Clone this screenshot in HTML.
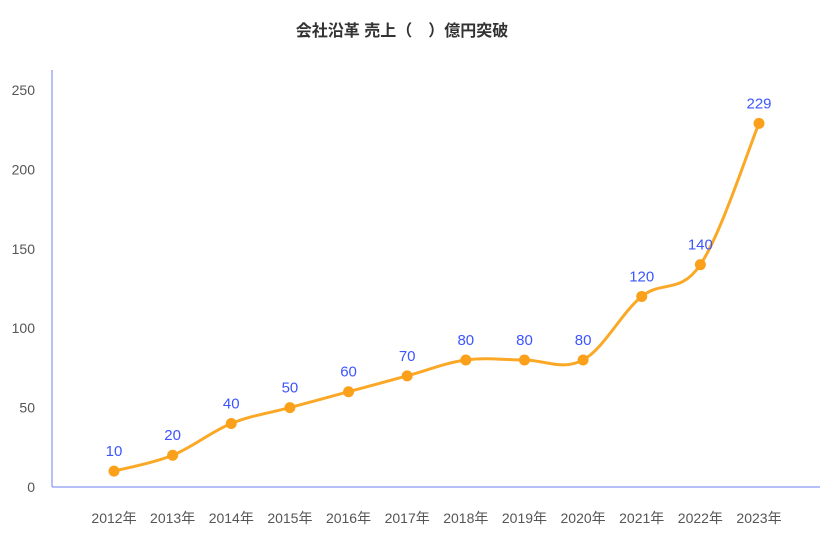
<!DOCTYPE html>
<html><head><meta charset="utf-8"><style>
body{margin:0;background:#fff;}
svg{display:block;font-family:"Liberation Sans","Noto Sans CJK JP",sans-serif;}
</style></head><body>
<svg id="c" width="826" height="535">
<text x="402" y="36" text-anchor="middle" font-size="16" font-weight="bold" fill="#333">会社沿革 売上（　）億円突破</text>
</svg>
<script>
const categories=["2012年","2013年","2014年","2015年","2016年","2017年","2018年","2019年","2020年","2021年","2022年","2023年"];
const sales=[10,20,40,50,60,70,80,80,80,120,140,229];
const yTicks=[0,50,100,150,200,250];
const NS="http://www.w3.org/2000/svg";
const svg=document.getElementById('c');
const x0=52,x1=820,yBase=487,yTop=90,yMax=250;
const step=(x1-x0)/categories.length*0.9163;
const xs=i=>114+i*(759-114)/(categories.length-1);
const ys=v=>yBase-(v/yMax)*(yBase-yTop);
function mk(t,a){const e=document.createElementNS(NS,t);for(const k in a)e.setAttribute(k,a[k]);svg.appendChild(e);return e;}
// axes
let ya=mk('line',{x1:x0,y1:70,x2:x0,y2:yBase,stroke:'#6f7ff0','stroke-width':1});


let xa=mk('line',{x1:x0,y1:yBase,x2:x1,y2:yBase,stroke:'#6f7ff0','stroke-width':1});


yTicks.forEach(v=>{
 const t=mk('text',{x:35,y:ys(v)+5,'text-anchor':'end','font-size':14,fill:'#555'});
 t.textContent=v;
 
 
});
categories.forEach((c,i)=>{
 const t=mk('text',{x:xs(i),y:523,'text-anchor':'middle','font-size':14,fill:'#555'});
 t.textContent=c;
 
 
});
// smooth line
const pts=sales.map((v,i)=>[xs(i),ys(v)]);
let d=`M${pts[0][0]},${pts[0][1]}`;
const s=0.35;
for(let i=0;i<pts.length-1;i++){
 const p0=pts[Math.max(0,i-1)],p1=pts[i],p2=pts[i+1],p3=pts[Math.min(pts.length-1,i+2)];
 const c1=[p1[0]+(p2[0]-p0[0])*s/2*1.0,p1[1]+(p2[1]-p0[1])*s/2];
 const c2=[p2[0]-(p3[0]-p1[0])*s/2,p2[1]-(p3[1]-p1[1])*s/2];
 d+=` C${c1[0]},${c1[1]} ${c2[0]},${c2[1]} ${p2[0]},${p2[1]}`;
}
const line=mk('path',{d:d,fill:'none',stroke:'#fba826','stroke-width':3});


pts.forEach((p,i)=>{
 const c=mk('circle',{cx:p[0],cy:p[1],r:5.5,fill:'#fba01a'});
 
 
 const t=mk('text',{x:p[0],y:p[1]-15,'text-anchor':'middle','font-size':15,fill:'#3d55ff'});
 t.textContent=sales[i];
 
 
});
</script>
</body></html>
